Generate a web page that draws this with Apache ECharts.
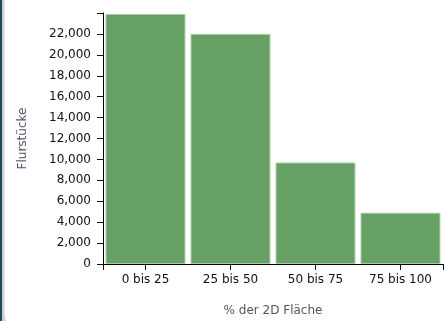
<!DOCTYPE html>
<html><head><meta charset="utf-8">
<script src="https://cdn.jsdelivr.net/npm/echarts@6/dist/echarts.min.js"></script>
<style>html,body{margin:0;padding:0;background:#fff}#c{width:446px;height:321px}</style>
</head><body><div id="c"></div>
<script>
var categories = ['0 bis 25', '25 bis 50', '50 bis 75', '75 bis 100'];
var values = [23900, 22000, 9700, 4900];
var yTicksMax = 24000;
var yTitle = 'Flurstücke';
var xTitle = '% der 2D Fläche';

var chart = echarts.init(document.getElementById('c'), null, {renderer: 'canvas'});
var font = 'DejaVu Sans';
var lineStyle = {color: '#000', width: 1, opacity: 1};
var tickStyle = {color: '#111', width: 1, opacity: 1};
chart.setOption({
  animation: false,
  grid: {left: 103, right: 3, top: 13, bottom: 57, outerBoundsMode: 'none', containLabel: false},
  xAxis: [{
    type: 'category',
    data: categories,
    name: xTitle,
    nameLocation: 'middle',
    nameGap: 41,
    nameTextStyle: {fontFamily: font, fontSize: 12, color: '#555'},
    axisLine: {show: true, lineStyle: lineStyle},
    axisTick: {show: false},
    axisLabel: {fontFamily: font, fontSize: 12, color: '#111', margin: 10}
  }, {
    type: 'category', position: 'bottom', data: categories,
    axisLine: {show: false}, splitLine: {show: false},
    axisTick: {show: true, interval: 0, alignWithLabel: true, length: 6, lineStyle: tickStyle},
    axisLabel: {show: false}
  }, {
    type: 'value', position: 'bottom', min: 0, max: 4, interval: 4,
    axisLine: {show: false}, splitLine: {show: false},
    axisTick: {show: true, length: 6, lineStyle: tickStyle},
    axisLabel: {show: false}
  }],
  yAxis: [{
    type: 'value',
    min: 0,
    max: yTicksMax,
    interval: 2000,
    name: yTitle,
    nameLocation: 'middle',
    nameGap: 74,
    nameTextStyle: {fontFamily: font, fontSize: 12, color: '#554f6a'},
    axisLine: {show: true, lineStyle: lineStyle},
    axisTick: {show: false},
    splitLine: {show: false},
    axisLabel: {fontFamily: font, fontSize: 12, color: '#111', margin: 12, showMaxLabel: false,
      formatter: function (v) { return v.toLocaleString('en-US'); }}
  }, {
    type: 'value', position: 'left', min: 0, max: yTicksMax, interval: 2000,
    axisLine: {show: false}, splitLine: {show: false},
    axisTick: {show: true, length: 6, lineStyle: tickStyle},
    axisLabel: {show: false}
  }],
  series: [{
    type: 'bar',
    data: values,
    xAxisIndex: 0,
    yAxisIndex: 0,
    barCategoryGap: '6%',
    itemStyle: {color: '#67a064', borderColor: '#a6cba2', borderWidth: 1}
  }],
  graphic: [
    {type: 'rect', shape: {x: 3, y: -20, width: 500, height: 345, r: 9}, style: {fill: 'none', stroke: '#cfcfcf', lineWidth: 3}, silent: true},
    {type: 'rect', shape: {x: 0, y: 0, width: 2, height: 321}, style: {fill: '#1c4a5c'}, silent: true}
  ]
});
</script></body></html>
